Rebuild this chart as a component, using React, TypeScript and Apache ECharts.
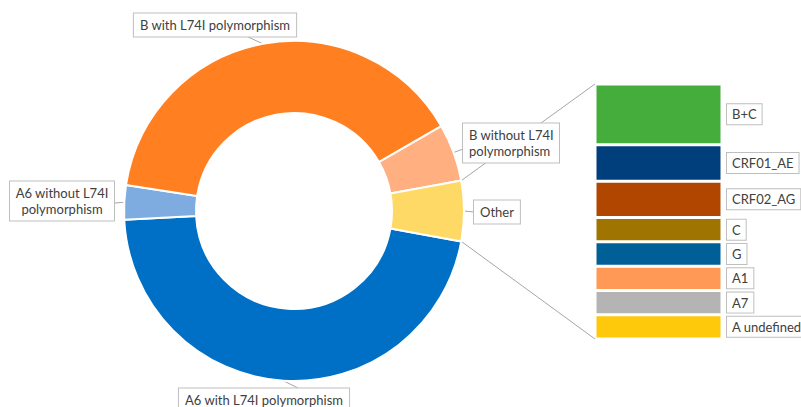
import React, { useEffect, useRef } from 'react';
import * as echarts from 'echarts';

// Main donut: subtype groups (counts)
const pieCategories = [
  'A6 with L74I polymorphism',
  'A6 without L74I polymorphism',
  'B with L74I polymorphism',
  'B without L74I polymorphism',
  'Other',
];
const pieValues = [170, 12, 144, 20, 21];
const pieColors = ['#0070C6', '#7EACE0', '#FF7F21', '#FFAF80', '#FFD966'];

// Breakdown of the "Other" slice (counts)
const otherCategories = ['B+C', 'CRF01_AE', 'CRF02_AG', 'C', 'G', 'A1', 'A7', 'A undefined'];
const otherValues = [5, 3, 3, 2, 2, 2, 2, 2];
const otherColors = ['#45AD3C', '#003E7C', '#B14600', '#A07400', '#005F97', '#FF9955', '#B4B4B4', '#FFC90B'];

// Layout
const CX = 294;
const CY = 211;
const R_OUT = 170;
const R_IN = 98;
const BAR = { left: 595, top: 84, width: 127, height: 255 };

const FONT = 'Lato, "Open Sans", sans-serif';
const TEXT_COLOR = '#404040';
const BOX_BORDER = '#BFBFBF';
const LINE_COLOR = '#A6A6A6';

// Callout placement for each donut label (by data index); width only for wrapped labels
const pieLabelPlacement: { x: number; y: number; align: string; end: number[]; width?: number }[] = [
  { x: 264, y: 400, align: 'center', end: [300, 389] },
  { x: 62, y: 201, align: 'center', end: [115, 203], width: 92 },
  { x: 215, y: 25, align: 'center', end: [246, 36] },
  { x: 463, y: 143, align: 'left', end: [463, 149], width: 84 },
  { x: 474, y: 212, align: 'left', end: [474, 212] },
];

export default function App() {
  const ref = useRef<HTMLDivElement>(null);

  useEffect(() => {
    if (!ref.current) return;
    const chart = echarts.init(ref.current, undefined, { renderer: 'svg' });

    const pieTotal = pieValues.reduce((a, b) => a + b, 0);
    const otherIdx = pieCategories.indexOf('Other');
    const halfOther = (pieValues[otherIdx] / pieTotal) * Math.PI; // radians
    const halfOtherDeg = (halfOther * 180) / Math.PI;
    const barTotal = otherValues.reduce((a, b) => a + b, 0);

    const topStart = [CX + R_OUT * Math.cos(halfOther), CY - R_OUT * Math.sin(halfOther)];
    const botStart = [CX + R_OUT * Math.cos(halfOther), CY + R_OUT * Math.sin(halfOther)];

    const boxLabel = {
      color: TEXT_COLOR,
      fontFamily: FONT,
      fontSize: 13,
      backgroundColor: '#fff',
      borderColor: BOX_BORDER,
      borderWidth: 1,
    };

    const option: any = {
      animation: false,
      backgroundColor: '#fff',
      grid: { left: BAR.left, top: BAR.top, width: BAR.width, height: BAR.height },
      xAxis: { type: 'category', data: ['Other'], show: false },
      yAxis: { type: 'value', min: 0, max: barTotal, inverse: true, show: false },
      graphic: [
        {
          type: 'line',
          shape: { x1: topStart[0], y1: topStart[1], x2: BAR.left, y2: BAR.top },
          style: { stroke: LINE_COLOR, lineWidth: 1 },
          z: 0,
        },
        {
          type: 'line',
          shape: { x1: botStart[0], y1: botStart[1], x2: BAR.left, y2: BAR.top + BAR.height },
          style: { stroke: LINE_COLOR, lineWidth: 1 },
          z: 0,
        },
      ],
      series: [
        {
          type: 'pie',
          center: [CX, CY],
          radius: [R_IN, R_OUT],
          startAngle: 360 - halfOtherDeg,
          clockwise: true,
          data: pieCategories.map((name, i) => {
            const pl = pieLabelPlacement[i];
            return {
              name,
              value: pieValues[i],
              itemStyle: { color: pieColors[i] },
              label: pl.width ? { width: pl.width, align: pl.align } : { align: pl.align },
            };
          }),
          itemStyle: { borderColor: '#fff', borderWidth: 2 },
          label: {
            show: true,
            position: 'outside',
            alignTo: 'none',
            overflow: 'none',
            ...boxLabel,
            lineHeight: 16,
            padding: [3.5, 6],
            formatter: (p: any) => String(p.name).replace(' without L74I ', ' without L74I\n'),
          },
          labelLine: {
            show: true,
            lineStyle: { color: LINE_COLOR, width: 1 },
          },
          labelLayout: (p: any) => {
            const pl = pieLabelPlacement[p.dataIndex];
            const start = p.labelLinePoints ? p.labelLinePoints[0] : pl.end;
            return {
              x: pl.x,
              y: pl.y,
              align: pl.align,
              verticalAlign: 'middle',
              labelLinePoints: [start, pl.end, pl.end],
            };
          },
        },
        ...otherCategories.map((name, i) => ({
          type: 'bar',
          name,
          stack: 'other',
          barWidth: '100%',
          data: [otherValues[i]],
          itemStyle: { color: otherColors[i], borderColor: '#fff', borderWidth: 1.5 },
          label: {
            show: true,
            position: 'right',
            distance: 5,
            ...boxLabel,
            lineHeight: 16,
            padding: [2, 5],
            formatter: (p: any) => p.seriesName,
          },
        })),
      ],
    };

    chart.setOption(option);
    return () => chart.dispose();
  }, []);

  return (
    <div
      ref={ref}
      style={{ position: 'absolute', left: 0, top: 0, width: 801, height: 407 }}
    />
  );
}
